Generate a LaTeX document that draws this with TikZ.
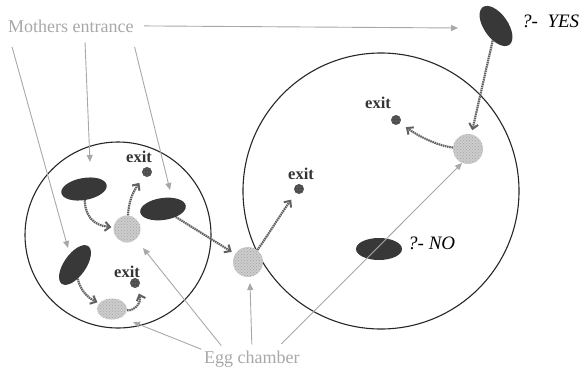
\documentclass[tikz,border=0pt]{standalone}
\usepackage{fontspec}
\setmainfont{Liberation Serif}
\usetikzlibrary{arrows.meta,shapes.geometric,patterns}

\definecolor{dimgrey}{HTML}{A8A8A8}
\definecolor{mumgrey}{HTML}{383838}

\begin{document}
\begin{tikzpicture}[x=1pt, y=-1pt,
    nest/.style={circle, draw=black!85, line width=1.1pt, inner sep=0pt},
    mum/.style={ellipse, fill=mumgrey, minimum width=46pt, minimum height=22pt, inner sep=0pt},
    eggs/.style={circle, fill=black!20, inner sep=0pt,
                 postaction={pattern=crosshatch dots, pattern color=black!35}},
    ball/.style={circle, fill=black!70, minimum size=10pt, inner sep=0pt,
                 postaction={pattern=dots, pattern color=black!35}},
    lbl/.style={font=\fontsize{16.5}{18}\selectfont\bfseries, text=black!80, inner sep=0pt},
    note/.style={font=\fontsize{18}{20}\selectfont, text=dimgrey, inner sep=0pt, anchor=base west},
    ans/.style={font=\fontsize{19}{22}\selectfont\itshape, inner sep=0pt, anchor=base west},
    pointer/.style={draw=dimgrey, line width=0.9pt, -{Triangle[length=7pt,width=6pt]}},
    move/.style={draw=black!62, line width=2.2pt, dash pattern=on 1.5pt off 0.7pt,
                 -{Straight Barb[length=5pt,width=9pt,line width=2pt]}}]

  \useasboundingbox (0,0) rectangle (585,370);

  % the two nests
  \node[nest, minimum size=186pt] (left) at (118,235) {};
  \node[nest, minimum size=276pt] (right) at (381,191) {};

  % egg chambers
  \node[eggs, minimum size=27pt] (c1) at (127,229) {};
  \node[eggs, ellipse, minimum width=30pt, minimum height=21pt] (c2) at (112,309) {};
  \node[eggs, minimum size=30pt] (c3) at (248,262) {};
  \node[eggs, minimum size=30pt] (c4) at (468,149) {};

  % mothers
  \node[mum, rotate=10] (m1) at (84,189) {};
  \node[mum, rotate=8] (m2) at (163,209) {};
  \node[mum, rotate=55] (m3) at (75,265) {};
  \node[mum, rotate=-55, minimum height=24pt] (m4) at (496,26) {};
  \node[mum] (m5) at (379,249) {};

  % exits
  \node[ball] (x1) at (147,172) {};
  \node[ball] (x2) at (135,283) {};
  \node[ball] (x3) at (299,189) {};
  \node[ball] (x4) at (396,120) {};
  \node[lbl] (l1) at (139,157) {exit};
  \node[lbl] (l2) at (127,272) {exit};
  \node[lbl] (l3) at (301,174) {exit};
  \node[lbl] (l4) at (378,103) {exit};

  % answers
  \node[ans] (yes) at (522,27) {?-~~YES};
  \node[ans] (no) at (408,249) {?- NO};

  % movements
  \draw[move, shorten >=2pt] (m1) .. controls (86,224) and (102,226) .. (c1);
  \draw[move, shorten >=8pt] (c1) .. controls (129,200) and (133,192) .. (x1);
  \draw[move, shorten >=4pt] (m2) -- (c3);
  \draw[move, shorten >=8pt] (c3) .. controls (265,240) and (280,215) .. (x3);
  \draw[move, shorten >=2pt] (m3) .. controls (80,290) and (88,298) .. (c2);
  \draw[move, shorten >=6pt] (c2) .. controls (135,311) and (142,302) .. (x2);
  \draw[move, shorten >=4pt] (m4) -- (c4);
  \draw[move, shorten >=7pt] (c4) .. controls (438,146) and (418,136) .. (x4);

  % grey labels and their pointers
  \node[note] (mothers) at (8,32) {Mothers entrance};
  \node[note] (chamber) at (204,363) {Egg chamber};

  \coordinate (in1) at (68,248);
  \coordinate (in2) at (90,162);
  \coordinate (in3) at (170,190);
  \coordinate (in4) at (458,28);
  \coordinate (ch1) at (143,248);
  \coordinate (ch2) at (133,322);
  \coordinate (ch3) at (250,283);
  \coordinate (ch4) at (462,163);

  \draw[pointer, shorten <=15pt] (mothers.south west) -- (in1);
  \draw[pointer, shorten <=10pt] ([xshift=76.6pt]mothers.south west) -- (in2);
  \draw[pointer, shorten <=15pt] ([xshift=123pt]mothers.south west) -- (in3);
  \draw[pointer, shorten <=10pt] (mothers.east) -- (in4);

  \draw[pointer, shorten <=3pt] (chamber.north west) -- (ch2);
  \draw[pointer, shorten <=6pt] ([xshift=21pt]chamber.north west) -- (ch1);
  \draw[pointer, shorten <=6pt] ([xshift=48pt]chamber.north west) -- (ch3);
  \draw[pointer, shorten <=9pt] ([xshift=71pt]chamber.north west) -- (ch4);
\end{tikzpicture}
\end{document}
